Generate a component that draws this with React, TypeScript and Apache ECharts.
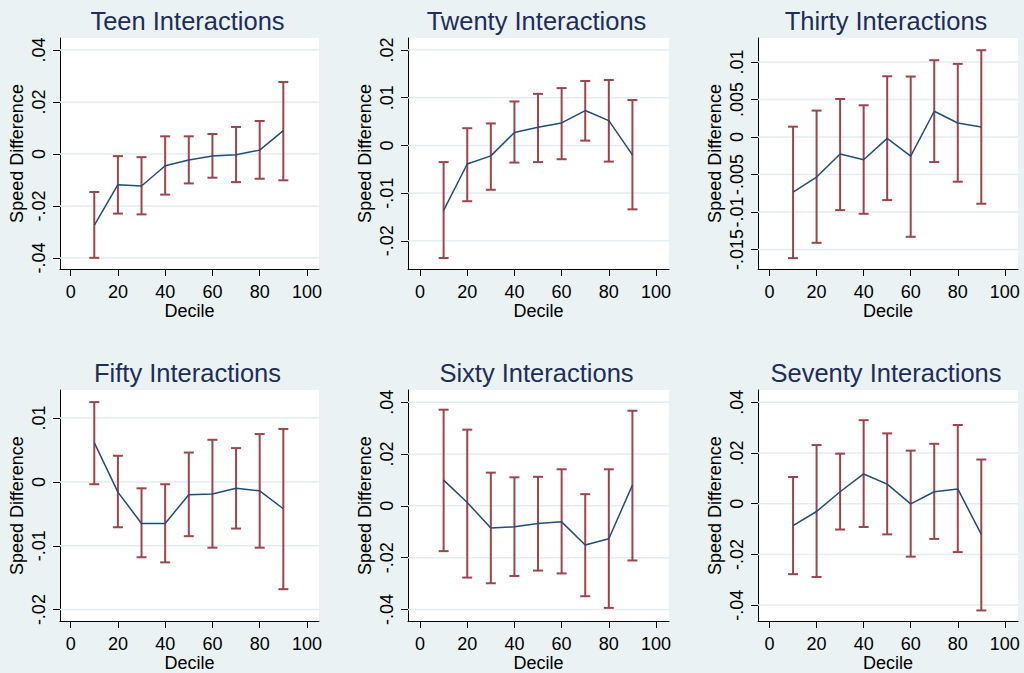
import React, { useEffect, useRef } from "react";
import * as echarts from "echarts";

const deciles = [10, 20, 30, 40, 50, 60, 70, 80, 90];
const xTicks = [0, 20, 40, 60, 80, 100];

const titles = [
  "Teen Interactions",
  "Twenty Interactions",
  "Thirty Interactions",
  "Fifty Interactions",
  "Sixty Interactions",
  "Seventy Interactions",
];

// point estimates, lower and upper confidence bounds
const teenEst = [-0.0274, -0.0118, -0.0123, -0.0045, -0.0023, -0.0008, -0.0003, 0.0015, 0.009];
const teenLo = [-0.0399, -0.0229, -0.0232, -0.0156, -0.0113, -0.0091, -0.0108, -0.0095, -0.0101];
const teenHi = [-0.0146, -0.0008, -0.0012, 0.0068, 0.0068, 0.0077, 0.0104, 0.0127, 0.0277];

const twentyEst = [-0.0136, -0.0039, -0.0022, 0.0027, 0.0038, 0.0047, 0.0073, 0.0052, -0.002];
const twentyLo = [-0.0236, -0.0117, -0.0093, -0.0036, -0.0035, -0.0029, 0.001, -0.0034, -0.0134];
const twentyHi = [-0.0035, 0.0036, 0.0046, 0.0092, 0.0108, 0.012, 0.0135, 0.0137, 0.0095];

const thirtyEst = [-0.00734, -0.00534, -0.00227, -0.00303, -0.00018, -0.00254, 0.00343, 0.00187, 0.00134];
const thirtyLo = [-0.01615, -0.01411, -0.00975, -0.01024, -0.00841, -0.01331, -0.00334, -0.00596, -0.0089];
const thirtyHi = [0.00138, 0.00352, 0.00507, 0.00423, 0.0081, 0.00806, 0.01024, 0.00975, 0.01157];

const fiftyEst = [0.00615, -0.0016, -0.0065, -0.0065, -0.002, -0.0019, -0.001, -0.0014, -0.0042];
const fiftyLo = [-0.00036, -0.0071, -0.0118, -0.0126, -0.0085, -0.0103, -0.0073, -0.0103, -0.0168];
const fiftyHi = [0.0125, 0.0041, -0.001, -0.00036, 0.0046, 0.0066, 0.0053, 0.0075, 0.0083];

const sixtyEst = [0.0099, 0.0013, -0.0086, -0.0081, -0.0068, -0.0062, -0.0151, -0.0127, 0.008];
const sixtyLo = [-0.0175, -0.0277, -0.0299, -0.0271, -0.025, -0.0261, -0.0349, -0.0394, -0.0211];
const sixtyHi = [0.0371, 0.0294, 0.0128, 0.011, 0.0112, 0.0141, 0.0045, 0.0141, 0.0367];

const seventyEst = [-0.0087, -0.0031, 0.0047, 0.0117, 0.0077, -0.0001, 0.0047, 0.0058, -0.0121];
const seventyLo = [-0.0278, -0.0289, -0.0102, -0.0092, -0.0121, -0.0209, -0.0139, -0.0191, -0.0421];
const seventyHi = [0.0105, 0.0231, 0.0197, 0.0329, 0.0277, 0.0209, 0.0236, 0.031, 0.0174];

const yTickValues = [
  [-0.04, -0.02, 0, 0.02, 0.04],
  [-0.02, -0.01, 0, 0.01, 0.02],
  [-0.015, -0.01, -0.005, 0, 0.005, 0.01],
  [-0.02, -0.01, 0, 0.01],
  [-0.04, -0.02, 0, 0.02, 0.04],
  [-0.04, -0.02, 0, 0.02, 0.04],
];
const yTickLabels = [
  ["-.04", "-.02", "0", ".02", ".04"],
  ["-.02", "-.01", "0", ".01", ".02"],
  ["-.015", "-.01", "-.005", "0", ".005", ".01"],
  ["-.02", "-.01", "0", ".01"],
  ["-.04", "-.02", "0", ".02", ".04"],
  ["-.04", "-.02", "0", ".02", ".04"],
];
const yRanges = [
  [-0.0442, 0.0446],
  [-0.0259, 0.0225],
  [-0.0176, 0.0132],
  [-0.0218, 0.0144],
  [-0.0445, 0.0447],
  [-0.0463, 0.0448],
];
const xRanges = [
  [-4.5, 105.1],
  [-5.1, 105.5],
  [-4.9, 105.6],
  [-4.5, 105.1],
  [-5.1, 105.5],
  [-4.9, 105.6],
];

const estimates = [teenEst, twentyEst, thirtyEst, fiftyEst, sixtyEst, seventyEst];
const lowers = [teenLo, twentyLo, thirtyLo, fiftyLo, sixtyLo, seventyLo];
const uppers = [teenHi, twentyHi, thirtyHi, fiftyHi, sixtyHi, seventyHi];

// layout (px)
const gridBoxes = [
  { left: 60, top: 38, width: 259, height: 231 },
  { left: 408, top: 38, width: 261, height: 231 },
  { left: 758, top: 38, width: 260, height: 231 },
  { left: 60, top: 390, width: 259, height: 232 },
  { left: 408, top: 390, width: 261, height: 232 },
  { left: 758, top: 390, width: 260, height: 232 },
];

const FONT = "'Liberation Sans', Arial, sans-serif";
const BG = "#EAF2F3";
const LINE = "#1F4E79";
const ERR = "#A0444C";
const TITLE = "#1E2D5A";
const GRIDLINE = "#E4EDEF";

export default function App() {
  const ref = useRef<HTMLDivElement>(null);
  useEffect(() => {
    if (!ref.current) return;
    const chart = echarts.init(ref.current, undefined, { renderer: "svg" });

    const grid: any[] = [];
    const xAxis: any[] = [];
    const yAxis: any[] = [];
    const series: any[] = [];
    const graphic: any[] = [];

    for (let i = 0; i < 6; i++) {
      const g = gridBoxes[i];
      grid.push({
        left: g.left,
        top: g.top,
        width: g.width,
        height: g.height,
        show: true,
        backgroundColor: "#ffffff",
        borderWidth: 0,
        containLabel: false,
      });
      xAxis.push({
        type: "value",
        gridIndex: i,
        min: xRanges[i][0],
        max: xRanges[i][1],
        name: "Decile",
        nameLocation: "middle",
        nameGap: 28,
        nameTextStyle: { fontFamily: FONT, fontSize: 18, color: "#000" },
        axisLine: { show: true, onZero: false, lineStyle: { color: "#000", width: 1 } },
        axisTick: { show: true, length: 7, customValues: xTicks, lineStyle: { color: "#000" } },
        axisLabel: {
          customValues: xTicks,
          fontFamily: FONT,
          fontSize: 18,
          color: "#000",
          margin: 14,
          formatter: (v: number) => String(Math.round(v)),
        },
        splitLine: { show: false },
      });
      const tv = yTickValues[i];
      const tl = yTickLabels[i];
      yAxis.push({
        type: "value",
        gridIndex: i,
        min: yRanges[i][0],
        max: yRanges[i][1],
        name: "Speed Difference",
        nameLocation: "middle",
        nameGap: 34,
        nameTextStyle: { fontFamily: FONT, fontSize: 18, color: "#000" },
        axisLine: { show: true, onZero: false, lineStyle: { color: "#000", width: 1 } },
        axisTick: { show: true, length: 7, customValues: tv, lineStyle: { color: "#000" } },
        axisLabel: {
          customValues: tv,
          rotate: 90,
          fontFamily: FONT,
          fontSize: 18,
          color: "#000",
          margin: 12,
          formatter: (v: number) => {
            let best = 0;
            for (let k = 0; k < tv.length; k++) {
              if (Math.abs(tv[k] - v) < Math.abs(tv[best] - v)) best = k;
            }
            return tl[best];
          },
        },
        splitLine: { show: false },
      });

      // gridlines
      series.push({
        type: "custom",
        xAxisIndex: i,
        yAxisIndex: i,
        z: 1,
        silent: true,
        data: tv.map((v) => [xRanges[i][0], v]),
        encode: { x: 0, y: 1 },
        renderItem: (params: any, api: any) => {
          const p = api.coord([api.value(0), api.value(1)]);
          const cs = params.coordSys;
          return {
            type: "line",
            shape: { x1: cs.x, y1: p[1], x2: cs.x + cs.width, y2: p[1] },
            style: { stroke: GRIDLINE, lineWidth: 1.5 },
          };
        },
      });

      // error bars
      series.push({
        type: "custom",
        xAxisIndex: i,
        yAxisIndex: i,
        z: 2,
        silent: true,
        data: deciles.map((d, k) => [d, lowers[i][k], uppers[i][k]]),
        encode: { x: 0, y: [1, 2] },
        renderItem: (params: any, api: any) => {
          const x = api.value(0);
          const pl = api.coord([x, api.value(1)]);
          const ph = api.coord([x, api.value(2)]);
          const st = { stroke: ERR, lineWidth: 2 };
          const hw = 5;
          return {
            type: "group",
            children: [
              { type: "line", shape: { x1: pl[0], y1: pl[1], x2: ph[0], y2: ph[1] }, style: st },
              { type: "line", shape: { x1: ph[0] - hw, y1: ph[1], x2: ph[0] + hw, y2: ph[1] }, style: st },
              { type: "line", shape: { x1: pl[0] - hw, y1: pl[1], x2: pl[0] + hw, y2: pl[1] }, style: st },
            ],
          };
        },
      });

      // point estimate line
      series.push({
        type: "line",
        xAxisIndex: i,
        yAxisIndex: i,
        z: 3,
        symbol: "none",
        silent: true,
        data: deciles.map((d, k) => [d, estimates[i][k]]),
        lineStyle: { color: LINE, width: 1.5 },
      });

      graphic.push({
        type: "text",
        x: g.left + g.width / 2 - 2,
        y: g.top - 17,
        style: {
          text: titles[i],
          fontFamily: FONT,
          fontSize: 25.5,
          fill: TITLE,
          textAlign: "center",
          textVerticalAlign: "middle",
        },
      });
    }

    chart.setOption({
      animation: false,
      backgroundColor: BG,
      grid,
      xAxis,
      yAxis,
      series,
      graphic,
    });
    return () => chart.dispose();
  }, []);

  return (
    <div
      ref={ref}
      style={{ position: "fixed", left: 0, top: 0, width: 1024, height: 673 }}
    />
  );
}
